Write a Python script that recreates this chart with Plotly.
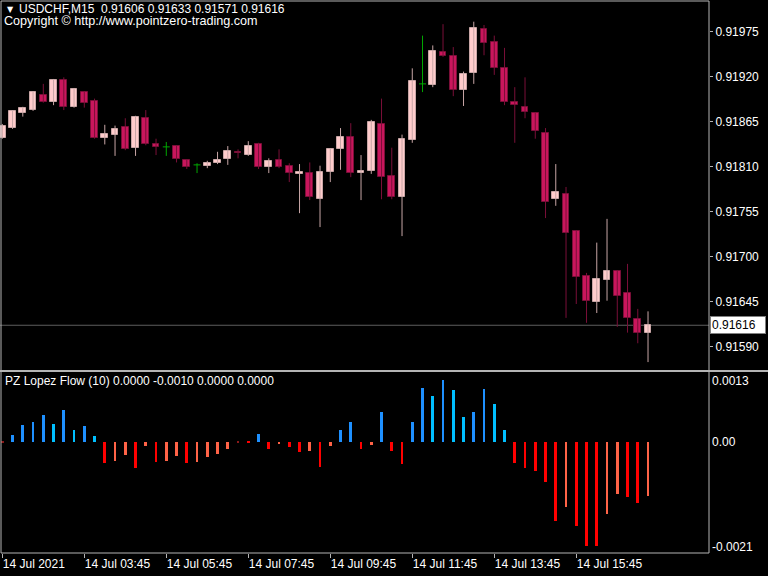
import plotly.graph_objects as go

# ---------------- data ----------------
bar_index = list(range(64))
opens = [0.91845, 0.91857, 0.91875, 0.91879, 0.91897, 0.91889, 0.91916, 0.91883, 0.91901, 0.91890,
         0.91845, 0.91849, 0.91858, 0.91833, 0.91869, 0.91837, 0.91834, 0.91835, 0.91818, 0.91812,
         0.91811, 0.91814, 0.91819, 0.91828, 0.91824, 0.91837, 0.91809, 0.91818, 0.91811, 0.91801,
         0.91802, 0.91770, 0.91803, 0.91831, 0.91846, 0.91802, 0.91804, 0.91862, 0.91798, 0.91773,
         0.91842, 0.91911, 0.91910, 0.91950, 0.91945, 0.91903, 0.91924, 0.91978, 0.91962, 0.91930,
         0.91889, 0.91883, 0.91875, 0.91851, 0.91770, 0.91776, 0.91731, 0.91676, 0.91644, 0.91671,
         0.91682, 0.91655, 0.91624, 0.91606]
highs = [0.91862, 0.91879, 0.91883, 0.91902, 0.91911, 0.91917, 0.91919, 0.91906, 0.91902, 0.91893,
         0.91861, 0.91860, 0.91869, 0.91872, 0.91879, 0.91844, 0.91840, 0.91836, 0.91819, 0.91814,
         0.91817, 0.91828, 0.91835, 0.91831, 0.91841, 0.91839, 0.91820, 0.91831, 0.91814, 0.91813,
         0.91815, 0.91811, 0.91832, 0.91857, 0.91863, 0.91824, 0.91867, 0.91893, 0.91833, 0.91849,
         0.91930, 0.91970, 0.91958, 0.91984, 0.91956, 0.91926, 0.91987, 0.91983, 0.91970, 0.91955,
         0.91907, 0.91919, 0.91876, 0.91857, 0.91813, 0.91785, 0.91732, 0.91680, 0.91717, 0.91746,
         0.91683, 0.91691, 0.91636, 0.91633]
lows = [0.91844, 0.91856, 0.91871, 0.91878, 0.91888, 0.91885, 0.91879, 0.91882, 0.91882, 0.91844,
        0.91837, 0.91823, 0.91830, 0.91823, 0.91836, 0.91824, 0.91823, 0.91815, 0.91807, 0.91802,
        0.91808, 0.91813, 0.91812, 0.91820, 0.91823, 0.91807, 0.91802, 0.91808, 0.91791, 0.91753,
        0.91769, 0.91736, 0.91791, 0.91806, 0.91797, 0.91769, 0.91801, 0.91770, 0.91770, 0.91725,
        0.91839, 0.91901, 0.91907, 0.91944, 0.91896, 0.91884, 0.91911, 0.91946, 0.91922, 0.91885,
        0.91839, 0.91869, 0.91844, 0.91747, 0.91762, 0.91625, 0.91642, 0.91619, 0.91631, 0.91646,
        0.91614, 0.91607, 0.91594, 0.91571]
closes = [0.91860, 0.91878, 0.91882, 0.91901, 0.91889, 0.91916, 0.91883, 0.91905, 0.91888, 0.91845,
          0.91850, 0.91856, 0.91831, 0.91871, 0.91837, 0.91834, 0.91834, 0.91819, 0.91809, 0.91812,
          0.91814, 0.91818, 0.91829, 0.91826, 0.91835, 0.91809, 0.91817, 0.91809, 0.91802, 0.91803,
          0.91773, 0.91803, 0.91831, 0.91846, 0.91802, 0.91804, 0.91864, 0.91797, 0.91773, 0.91844,
          0.91915, 0.91911, 0.91951, 0.91945, 0.91903, 0.91923, 0.91979, 0.91961, 0.91930, 0.91889,
          0.91885, 0.91877, 0.91853, 0.91767, 0.91779, 0.91729, 0.91675, 0.91646, 0.91672, 0.91682,
          0.91652, 0.91625, 0.91607, 0.91616]

flow = [-0.00001, 0.00013, 0.00031, 0.00036, 0.00050, 0.00033, 0.00060, 0.00021, 0.00030, 0.00011,
        -0.00041, -0.00036, -0.00026, -0.00050, -0.00008, -0.00038, -0.00036, -0.00027, -0.00040, -0.00039,
        -0.00030, -0.00023, -0.00014, -0.00001, -0.00003, 0.00014, -0.00014, -0.00004, -0.00011, -0.00019,
        -0.00017, -0.00047, -0.00009, 0.00021, 0.00036, -0.00014, -0.00006, 0.00055, -0.00017, -0.00042,
        0.00036, 0.00100, 0.00085, 0.00116, 0.00097, 0.00046, 0.00056, 0.00099, 0.00071, 0.00021,
        -0.00040, -0.00050, -0.00055, -0.00076, -0.00149, -0.00124, -0.00158, -0.00196, -0.00196, -0.00137,
        -0.00098, -0.00105, -0.00115, -0.00102]
flow_kind = ["flat", "up", "up", "up", "up", "up2", "up", "up2", "up", "up2",
             "dn", "dn2", "dn2", "dn", "dn2", "dn", "dn2", "dn2", "dn", "dn2",
             "dn2", "dn2", "dn2", "flat", "dn", "up", "dn", "dn2", "dn", "dn",
             "dn2", "dn", "dn2", "up", "up", "dn", "dn2", "up", "dn", "dn",
             "up", "up", "up2", "up", "up2", "up2", "up", "up", "up2", "up2",
             "dn", "dn", "dn", "dn", "dn", "dn2", "dn", "dn", "dn", "dn2",
             "dn2", "dn", "dn", "dn2"]

time_tick_index = [0, 8, 16, 24, 32, 40, 48, 56]
time_tick_text = ["14 Jul 2021", "14 Jul 03:45", "14 Jul 05:45", "14 Jul 07:45",
                  "14 Jul 09:45", "14 Jul 11:45", "14 Jul 13:45", "14 Jul 15:45"]
price_ticks = [0.91975, 0.91920, 0.91865, 0.91810, 0.91755, 0.91700, 0.91645, 0.91590]
flow_max, flow_min = 0.0013, -0.0021

symbol = "USDCHF,M15"
copyright_text = "Copyright \u00a9 http://www.pointzero-trading.com"
indicator_name = "PZ Lopez Flow (10)"
indicator_values = "0.0000 -0.0010 0.0000 0.0000"

# ---------------- styling ----------------
W, H = 768, 576
BULL_BODY = "#FFCCCC"
BULL_EDGE = "#C8A6A6"
BEAR_BODY = "#C8165C"
BEAR_EDGE = "#7A0F38"
DOJI = "#00A800"
FLOW_COLORS = {"up": "#1E90FF", "up2": "#00BFFF", "dn": "#FF0000", "dn2": "#FF6347", "flat": "#8B1A1A"}
FONT = "Liberation Sans"
FG = "#FFFFFF"
GRID = "#B4B4B4"

plot_right = 709 / W
main_dom = [1 - 371 / H, 1 - 1 / H]
ind_dom = [1 - 553 / H, 1 - 372 / H]
x_range = [-0.2244, 68.95]
main_range = [0.915601, 0.920123]
ind_range = [-0.0020962, 0.001307]

fig = go.Figure()


def kind(o, c):
    return "bull" if c > o else ("bear" if c < o else "doji")


# wicks
wick = {"bull": ([], []), "bear": ([], []), "doji": ([], [])}
for i, o, h, l, c in zip(bar_index, opens, highs, lows, closes):
    k = kind(o, c)
    wick[k][0].extend([i, i, None])
    wick[k][1].extend([l, h, None])
wick_color = {"bull": BULL_EDGE, "bear": BEAR_EDGE, "doji": DOJI}
for k, (xs, ys) in wick.items():
    fig.add_trace(go.Scatter(x=xs, y=ys, mode="lines", line=dict(color=wick_color[k], width=1),
                             hoverinfo="skip", showlegend=False, xaxis="x", yaxis="y"))

# bodies
body_x, body_base, body_h, body_fill, body_edge = [], [], [], [], []
doji_x, doji_y = [], []
for i, o, c in zip(bar_index, opens, closes):
    k = kind(o, c)
    if k == "doji":
        doji_x.extend([i - 0.34, i + 0.34, None])
        doji_y.extend([o, o, None])
        continue
    body_x.append(i)
    body_base.append(min(o, c))
    body_h.append(abs(c - o))
    body_fill.append(BULL_BODY if k == "bull" else BEAR_BODY)
    body_edge.append(BULL_EDGE if k == "bull" else BEAR_EDGE)
fig.add_trace(go.Bar(x=body_x, y=body_h, base=body_base, width=0.66,
                     marker=dict(color=body_fill, line=dict(color=body_edge, width=1)),
                     hoverinfo="skip", showlegend=False, xaxis="x", yaxis="y"))
fig.add_trace(go.Scatter(x=doji_x, y=doji_y, mode="lines", line=dict(color=DOJI, width=1),
                         hoverinfo="skip", showlegend=False, xaxis="x", yaxis="y"))

# indicator histogram
fig.add_trace(go.Bar(x=bar_index, y=flow, width=0.28,
                     marker=dict(color=[FLOW_COLORS[k] for k in flow_kind], line=dict(width=0)),
                     hoverinfo="skip", showlegend=False, xaxis="x2", yaxis="y2"))

fig.update_layout(
    width=W, height=H,
    margin=dict(l=0, r=0, t=0, b=0),
    paper_bgcolor="black", plot_bgcolor="black",
    font=dict(family=FONT, size=12, color=FG),
    showlegend=False, bargap=0,
    xaxis=dict(domain=[0, plot_right], range=x_range, anchor="y", matches="x2",
               showticklabels=False, showgrid=False, zeroline=False, showline=False, ticks=""),
    yaxis=dict(domain=main_dom, range=main_range, side="right", anchor="x",
               tickvals=price_ticks, ticktext=[f"{v:.5f}" for v in price_ticks],
               ticks="outside", ticklen=3, tickcolor=GRID, showgrid=False, zeroline=False,
               showline=False, tickfont=dict(family=FONT, size=12, color=FG)),
    xaxis2=dict(domain=[0, plot_right], range=x_range, anchor="y2",
                tickvals=time_tick_index, ticktext=time_tick_text,
                ticks="outside", ticklen=4, tickcolor=GRID, ticklabelposition="outside right",
                showgrid=False, zeroline=False, showline=False,
                tickfont=dict(family=FONT, size=12, color=FG)),
    yaxis2=dict(domain=ind_dom, range=ind_range, side="right", anchor="x2",
                showticklabels=False, ticks="", showgrid=False, zeroline=False, showline=False),
)

# borders and separator
fig.add_shape(type="rect", xref="paper", yref="paper", x0=1 / W, x1=plot_right,
              y0=1 - 553 / H, y1=1 - 1 / H, line=dict(color=GRID, width=1), layer="above")
fig.add_shape(type="line", xref="paper", yref="paper", x0=0, x1=1,
              y0=1 - 371 / H, y1=1 - 371 / H, line=dict(color=GRID, width=2), layer="above")

# bid line and label
last_close = closes[-1]
fig.add_shape(type="line", xref="paper", yref="y", x0=0, x1=plot_right,
              y0=last_close, y1=last_close, line=dict(color="#5E5E5E", width=1), layer="below")
fig.add_annotation(xref="paper", yref="y", x=710 / W, y=last_close, xanchor="left", yanchor="middle",
                   text=f"{last_close:.5f}", showarrow=False, bgcolor="white",
                   width=52, align="left",
                   bordercolor="#808080", borderwidth=1, borderpad=1,
                   font=dict(family=FONT, size=12, color="black"))

# indicator axis labels
for val, anchor, shift in [(flow_max, "top", 0), (0.0, "middle", 0), (flow_min, "bottom", -3)]:
    yv = {"top": ind_range[1], "middle": 0.0, "bottom": ind_range[0]}[anchor]
    txt = "0.00" if val == 0 else f"{val:.4f}"
    fig.add_annotation(xref="paper", yref="y2", x=710 / W, y=yv, xanchor="left", yanchor=anchor,
                       yshift=shift, text=txt, showarrow=False,
                       font=dict(family=FONT, size=12, color=FG))

# header texts
ohlc = f"{opens[-1]:.5f} {highs[-1]:.5f} {lows[-1]:.5f} {closes[-1]:.5f}"
fig.add_annotation(xref="paper", yref="paper", x=5 / W, y=1 - 9 / H, xanchor="left", yanchor="middle",
                   text="\u25bc", showarrow=False, font=dict(family="DejaVu Sans", size=8, color=FG))
fig.add_annotation(xref="paper", yref="paper", x=18 / W, y=1 - 9 / H, xanchor="left", yanchor="middle",
                   text=f"{symbol}  {ohlc}", showarrow=False, borderpad=0,
                   font=dict(family=FONT, size=12, color=FG))
fig.add_annotation(xref="paper", yref="paper", x=3 / W, y=1 - 21 / H, xanchor="left", yanchor="middle",
                   text=copyright_text, showarrow=False, borderpad=0,
                   font=dict(family=FONT, size=12.6, color=FG))
fig.add_annotation(xref="paper", yref="paper", x=3 / W, y=1 - 381 / H, xanchor="left", yanchor="middle",
                   text=f"{indicator_name} {indicator_values}", showarrow=False,
                   font=dict(family=FONT, size=12, color=FG))

fig.write_html("out.html", config={"displayModeBar": False},
               post_script="document.body.style.margin='0px';document.body.style.overflow='hidden';")
